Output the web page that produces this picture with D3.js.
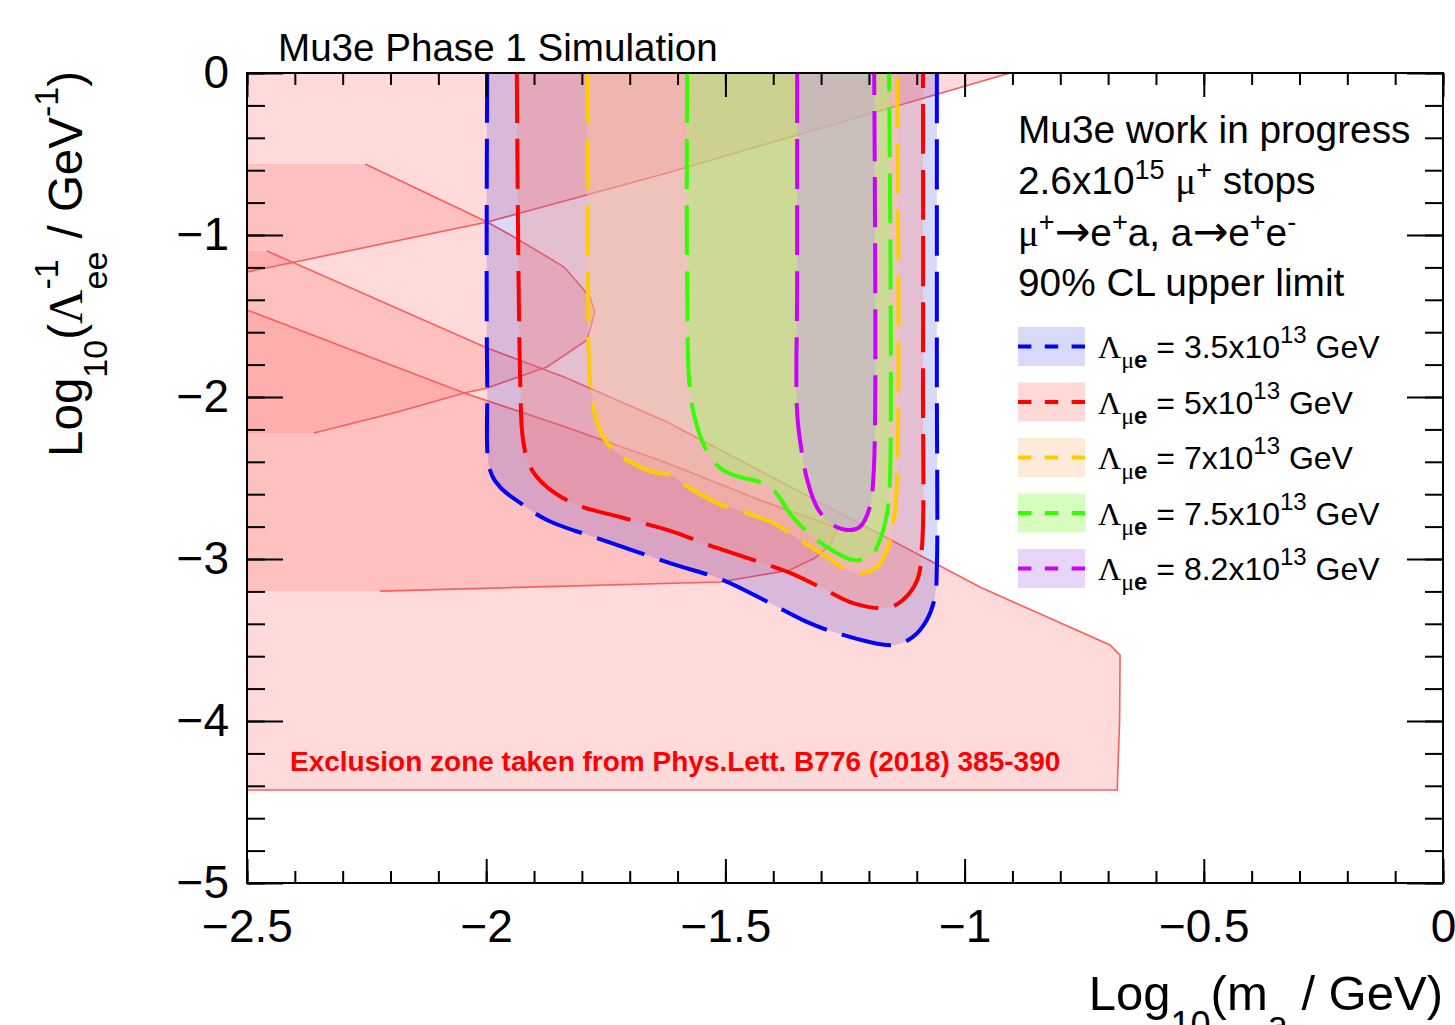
<!DOCTYPE html>
<html>
<head>
<meta charset="utf-8">
<script src="https://cdn.jsdelivr.net/npm/d3@7"></script>
<style>
  body { margin: 0; background: #fff; }
  text { white-space: pre; }
</style>
</head>
<body>
<svg id="chart" width="1455" height="1025"></svg>
<script>
// axis ticks and labels
const xMajorTicks = [-2.5, -2, -1.5, -1, -0.5, 0]
const xTickLabels = ['\u22122.5', '\u22122', '\u22121.5', '\u22121', '\u22120.5', '0']
const yMajorTicks = [0, -1, -2, -3, -4, -5]
const yTickLabels = ['0', '\u22121', '\u22122', '\u22123', '\u22124', '\u22125']

// exclusion zones (Phys.Lett. B776 (2018) 385-390), x = log10(ma), y = log10(1/Lambda_ee)
const exclUpper = [[-2.5, 0], [-0.905, 0], [-1.135, -0.198], [-1.622, -0.617], [-1.998, -0.920], [-2.5, -1.228]]
const exclNose = [[-2.5, -0.562], [-2.253, -0.562], [-1.998, -0.920], [-1.942, -1.012], [-1.837, -1.198],
  [-1.783, -1.383], [-1.773, -1.475], [-1.789, -1.648], [-1.873, -1.815], [-1.998, -1.944],
  [-2.046, -1.975], [-2.186, -2.093], [-2.360, -2.222], [-2.5, -2.222]]
const exclLower = [[-2.5, -1.099], [-2.458, -1.099], [-1.998, -1.698], [-1.837, -1.877], [-1.622, -2.154],
  [-1.407, -2.488], [-0.968, -3.173], [-0.696, -3.531], [-0.675, -3.593], [-0.676, -4.0],
  [-0.681, -4.426], [-2.5, -4.426]]
const exclWedge = [[-2.5, -1.463], [-2.046, -1.975], [-1.846, -2.173], [-1.622, -2.407], [-1.428, -2.636],
  [-1.265, -2.809], [-1.281, -2.914], [-1.313, -2.994], [-1.365, -3.068], [-1.511, -3.142],
  [-2.222, -3.198], [-2.5, -3.198]]

// Mu3e 90% CL contours
const contour35 = [[-1.998, 0], [-1.998, -1.895], [-1.992, -2.451], [-1.971, -2.556], [-1.929, -2.654],
  [-1.873, -2.759], [-1.756, -2.883], [-1.616, -3.025], [-1.505, -3.130], [-1.407, -3.272],
  [-1.338, -3.377], [-1.267, -3.457], [-1.150, -3.531], [-1.108, -3.481], [-1.079, -3.377],
  [-1.062, -3.235], [-1.058, -3.049], [-1.058, -1.895], [-1.058, 0]]
const contour50 = [[-1.936, 0], [-1.929, -1.895], [-1.923, -2.265], [-1.908, -2.432], [-1.873, -2.556],
  [-1.810, -2.667], [-1.720, -2.741], [-1.643, -2.802], [-1.601, -2.840], [-1.547, -2.901],
  [-1.442, -3.006], [-1.365, -3.086], [-1.302, -3.173], [-1.233, -3.272], [-1.162, -3.302],
  [-1.129, -3.253], [-1.099, -3.130], [-1.089, -2.926], [-1.087, -1.895], [-1.087, 0]]
const contour70 = [[-1.789, 0], [-1.787, -1.278], [-1.783, -1.895], [-1.768, -2.160], [-1.747, -2.284],
  [-1.706, -2.389], [-1.651, -2.463], [-1.616, -2.481], [-1.568, -2.574], [-1.518, -2.654],
  [-1.455, -2.716], [-1.400, -2.778], [-1.344, -2.883], [-1.288, -2.988], [-1.246, -3.068],
  [-1.212, -3.086], [-1.183, -3.049], [-1.162, -2.944], [-1.150, -2.802], [-1.141, -2.512], [-1.141, 0]]
const contour75 = [[-1.580, 0], [-1.580, -1.278], [-1.574, -1.957], [-1.559, -2.185], [-1.532, -2.370],
  [-1.505, -2.451], [-1.469, -2.494], [-1.428, -2.525], [-1.400, -2.574], [-1.359, -2.741],
  [-1.317, -2.864], [-1.267, -2.963], [-1.233, -3.006], [-1.198, -2.988], [-1.177, -2.883],
  [-1.162, -2.716], [-1.156, -2.512], [-1.158, 0]]
const contour82 = [[-1.350, 0], [-1.350, -1.278], [-1.350, -2.099], [-1.340, -2.346], [-1.329, -2.512],
  [-1.309, -2.679], [-1.281, -2.778], [-1.246, -2.821], [-1.219, -2.802], [-1.198, -2.679],
  [-1.191, -2.512], [-1.187, -2.099], [-1.189, 0]]

const legendLabels = ['3.5x10', '5x10', '7x10', '7.5x10', '8.2x10']

const sans = '"Liberation Sans", Arial, Helvetica, sans-serif'
const serif = '"Liberation Serif", "Times New Roman", serif'
const arrowFont = '"DejaVu Sans", sans-serif'

const svg = d3.select('#chart')
const x = d3.scaleLinear().domain([-2.5, 0]).range([247, 1443])
const y = d3.scaleLinear().domain([-5, 0]).range([883, 73])

svg.append('defs').append('clipPath').attr('id', 'frame')
  .append('rect')
  .attr('x', x(-2.5)).attr('y', y(0))
  .attr('width', x(0) - x(-2.5)).attr('height', y(-5) - y(0))

const plot = svg.append('g').attr('clip-path', 'url(#frame)')
const line = d3.line().x(d => x(d[0])).y(d => y(d[1]))
const smooth = d3.line().x(d => x(d[0])).y(d => y(d[1])).curve(d3.curveCatmullRom.alpha(0.5))

// exclusion fills, then their outlines
const zones = [
  { pts: exclUpper, edge: exclUpper.slice(1) },
  { pts: exclNose, edge: exclNose.slice(1, -1) },
  { pts: exclLower, edge: exclLower.slice(1) },
  { pts: exclWedge, edge: exclWedge.slice(0, -1) }
]
zones.forEach(z => {
  plot.append('path').attr('d', line(z.pts) + 'Z')
    .attr('fill', 'rgb(255,132,132)').attr('fill-opacity', 0.3).attr('stroke', 'none')
})
zones.forEach(z => {
  plot.append('path').attr('d', line(z.edge))
    .attr('fill', 'none').attr('stroke', 'rgb(250,95,95)').attr('stroke-width', 1.6)
})

// contours
const contours = [
  { pts: contour35, line: '#0000ff', fill: 'rgba(0,0,220,0.15)' },
  { pts: contour50, line: '#ff0000', fill: 'rgba(255,130,117,0.3)' },
  { pts: contour70, line: '#ffcc00', fill: 'rgba(252,202,157,0.4)' },
  { pts: contour75, line: '#33ff00', fill: 'rgba(157,248,100,0.42)' },
  { pts: contour82, line: '#cc00ff', fill: 'rgba(197,152,242,0.4)' }
]
contours.forEach(c => {
  plot.append('path').attr('d', smooth(c.pts) + 'Z')
    .attr('fill', c.fill).attr('stroke', 'none')
})
contours.forEach(c => {
  plot.append('path').attr('d', smooth(c.pts))
    .attr('fill', 'none').attr('stroke', c.line)
    .attr('stroke-width', 4).attr('stroke-dasharray', '50,16')
})

// axes
const styleAxis = g => {
  g.select('.domain').remove()
  g.selectAll('line').attr('stroke', '#000').attr('stroke-width', 2)
  g.selectAll('text').style('font-family', sans).style('font-size', '46px').attr('fill', '#000')
}
const xMinor = d3.range(-25, 1).map(i => i / 10)
const yMinor = d3.range(-25, 1).map(i => i / 5)

svg.append('g').attr('transform', `translate(0,${y(-5)})`)
  .call(d3.axisBottom(x).tickValues(xMinor).tickSize(-12).tickFormat('')).call(styleAxis)
svg.append('g').attr('transform', `translate(0,${y(-5)})`)
  .call(d3.axisBottom(x).tickValues(xMajorTicks).tickSize(-24).tickPadding(26)
    .tickFormat((d, i) => xTickLabels[i])).call(styleAxis)
svg.append('g').attr('transform', `translate(0,${y(0)})`)
  .call(d3.axisTop(x).tickValues(xMinor).tickSize(-12).tickFormat('')).call(styleAxis)
svg.append('g').attr('transform', `translate(0,${y(0)})`)
  .call(d3.axisTop(x).tickValues(xMajorTicks).tickSize(-24).tickFormat('')).call(styleAxis)
svg.append('g').attr('transform', `translate(${x(-2.5)},0)`)
  .call(d3.axisLeft(y).tickValues(yMinor).tickSize(-18).tickFormat('')).call(styleAxis)
svg.append('g').attr('transform', `translate(${x(-2.5)},0)`)
  .call(d3.axisLeft(y).tickValues(yMajorTicks).tickSize(-36).tickPadding(18)
    .tickFormat((d, i) => yTickLabels[i])).call(styleAxis)
svg.append('g').attr('transform', `translate(${x(0)},0)`)
  .call(d3.axisRight(y).tickValues(yMinor).tickSize(-18).tickFormat('')).call(styleAxis)
svg.append('g').attr('transform', `translate(${x(0)},0)`)
  .call(d3.axisRight(y).tickValues(yMajorTicks).tickSize(-36).tickFormat('')).call(styleAxis)

svg.append('rect')
  .attr('x', x(-2.5)).attr('y', y(0))
  .attr('width', x(0) - x(-2.5)).attr('height', y(-5) - y(0))
  .attr('fill', 'none').attr('stroke', '#000').attr('stroke-width', 2)

// text with sub/superscripts, laid out run by run
function richText(parent, px, py, runs, o) {
  const g = parent.append('g')
    .attr('transform', `translate(${px},${py})` + (o.rotate ? ` rotate(${o.rotate})` : ''))
  let cx = 0
  let lastStart = 0
  runs.forEach(r => {
    const small = r.sub || r.sup
    const start = r.stack ? lastStart : cx
    const t = g.append('text')
      .attr('x', start)
      .attr('y', r.sub ? o.subDy : r.sup ? o.supDy : 0)
      .style('font-family', r.arrow ? arrowFont : r.greek ? serif : sans)
      .style('font-size', (r.arrow ? o.size * 1.1 : small ? o.small : o.size) + 'px')
      .style('font-weight', r.bold || o.bold ? 'bold' : 'normal')
      .attr('fill', o.color || '#000')
      .text(r.t)
    const w = t.node().getComputedTextLength()
    if (r.stack) {
      cx = Math.max(cx, start + w)
    } else {
      lastStart = start
      cx = start + w
    }
  })
  if (o.anchor === 'end') {
    g.selectAll('text').attr('x', function () { return +this.getAttribute('x') - cx })
  }
  return g
}

// title
richText(svg, 278, 61, [{ t: 'Mu3e Phase 1 Simulation' }], { size: 38.6 })

// axis titles
richText(svg, 1443, 1010, [
  { t: 'Log' }, { t: '10', sub: true }, { t: '(m' }, { t: 'a', sub: true }, { t: ' / GeV)' }
], { size: 49, small: 36, subDy: 27, supDy: -24, anchor: 'end' })

richText(svg, 82, 71, [
  { t: 'Log' }, { t: '10', sub: true }, { t: '(' }, { t: '\u039B', greek: true },
  { t: '-1', sup: true }, { t: 'ee', sub: true, stack: true },
  { t: ' / GeV' }, { t: '-1', sup: true }, { t: ')' }
], { size: 47.5, small: 34, subDy: 25, supDy: -24, anchor: 'end', rotate: -90 })

// legend header
const hdr = { size: 38.8, small: 27, subDy: 10, supDy: -15 }
richText(svg, 1018, 143, [{ t: 'Mu3e work in progress' }], hdr)
richText(svg, 1018, 194, [
  { t: '2.6x10' }, { t: '15', sup: true }, { t: ' ' }, { t: '\u03BC', greek: true }, { t: '+', sup: true }, { t: ' stops' }
], hdr)
richText(svg, 1018, 246, [
  { t: '\u03BC', greek: true }, { t: '+', sup: true }, { t: '\u2192', arrow: true }, { t: 'e' }, { t: '+', sup: true },
  { t: 'a, a' }, { t: '\u2192', arrow: true }, { t: 'e' }, { t: '+', sup: true }, { t: 'e' }, { t: '-', sup: true }
], hdr)
richText(svg, 1018, 296, [{ t: '90% CL upper limit' }], hdr)

// legend entries
const legend = svg.append('g')
contours.forEach((c, i) => {
  const cy = 346.5 + i * 55.5
  legend.append('rect')
    .attr('x', 1018).attr('y', cy - 19.5).attr('width', 67).attr('height', 39)
    .attr('fill', c.fill)
  legend.append('line')
    .attr('x1', 1018).attr('x2', 1085).attr('y1', cy).attr('y2', cy)
    .attr('stroke', c.line).attr('stroke-width', 4).attr('stroke-dasharray', '13.4,13.4')
  richText(legend, 1098, cy + 11.5, [
    { t: '\u039B', greek: true }, { t: '\u03BC', greek: true, sub: true }, { t: 'e', sub: true, bold: true },
    { t: ' = ' + legendLabels[i] }, { t: '13', sup: true }, { t: ' GeV' }
  ], { size: 32, small: 24, subDy: 10, supDy: -15 })
})

// source note
richText(svg, 290, 771, [{ t: 'Exclusion zone taken from Phys.Lett. B776 (2018) 385-390' }],
  { size: 28, bold: true, color: '#ff0000' })
</script>
</body>
</html>
